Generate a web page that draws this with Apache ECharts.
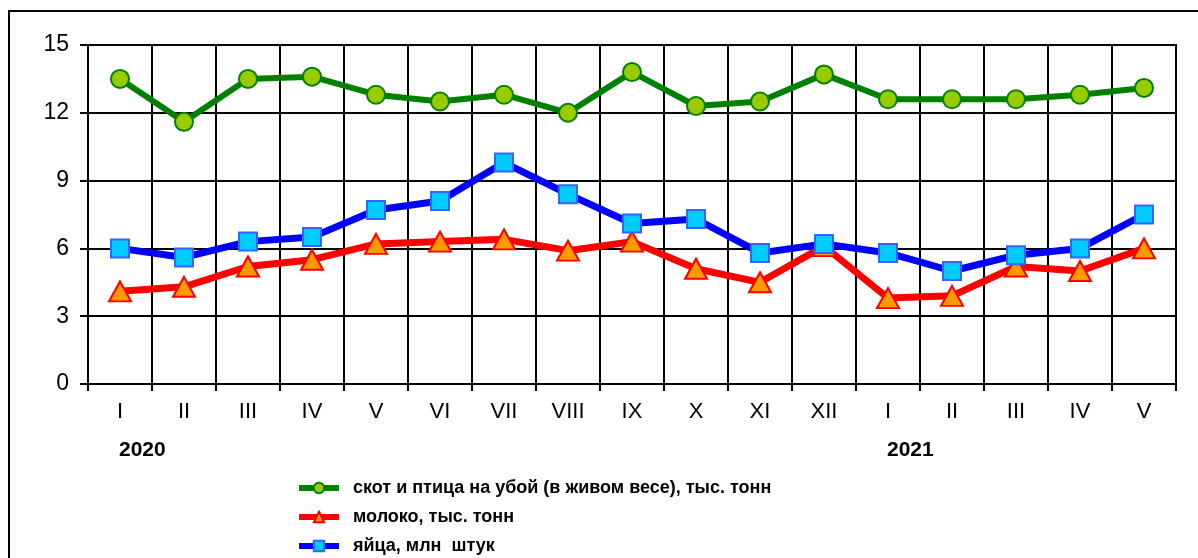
<!DOCTYPE html>
<html><head><meta charset="utf-8">
<script src="https://cdn.jsdelivr.net/npm/echarts@6/dist/echarts.min.js"></script>
<style>html,body{margin:0;padding:0;background:#fff}#c{width:1198px;height:558px}</style>
</head><body><div id="c"></div>
<script>
const categories = ['I','II','III','IV','V','VI','VII','VIII','IX','X','XI','XII','I','II','III','IV','V'];
const years = [{index:0,label:'2020'},{index:12,label:'2021'}];
const livestock = [13.5,11.6,13.5,13.6,12.8,12.5,12.8,12.0,13.8,12.3,12.5,13.7,12.6,12.6,12.6,12.8,13.1];
const milk = [4.1,4.3,5.2,5.5,6.2,6.3,6.4,5.9,6.3,5.1,4.5,6.1,3.8,3.9,5.2,5.0,6.0];
const eggs = [6.0,5.6,6.3,6.5,7.7,8.1,9.8,8.4,7.1,7.3,5.8,6.2,5.8,5.0,5.7,6.0,7.5];
const names = ['скот и птица на убой (в живом весе), тыс. тонн','молоко, тыс. тонн','яйца, млн  штук'];

const chart = echarts.init(document.getElementById('c'));
const font = "'Liberation Sans', Arial, sans-serif";
chart.setOption({
  animation:false,
  backgroundColor:'#fff',
  grid:{left:88,right:22,top:45,bottom:174,show:true,borderColor:'#000',borderWidth:2,backgroundColor:'transparent'},
  legend:{
    orient:'vertical',left:296,top:478,itemWidth:40,itemHeight:13,itemGap:9,padding:0,height:90,
    data:names,
    lineStyle:{width:6},
    textStyle:{fontFamily:font,fontWeight:'bold',fontSize:18,color:'#000',lineHeight:20,padding:[0,0,0,9]}
  },
  xAxis:{
    type:'category',data:categories,boundaryGap:true,
    axisLine:{lineStyle:{color:'#000',width:2}},
    axisTick:{show:true,length:7,lineStyle:{color:'#000',width:2}},
    axisLabel:{color:'#000',fontFamily:font,fontSize:22,margin:17,interval:0},
    splitLine:{show:true,lineStyle:{color:'#000',width:2}}
  },
  yAxis:{
    type:'value',min:0,max:15,interval:3,
    axisLine:{show:true,lineStyle:{color:'#000',width:2}},
    axisTick:{show:true,length:8,lineStyle:{color:'#000',width:2}},
    axisLabel:{color:'#000',fontFamily:font,fontSize:23,margin:19},
    splitLine:{show:true,lineStyle:{color:'#000',width:2}}
  },
  series:[
    {name:names[0],type:'line',data:livestock,symbol:'circle',symbolSize:18,
     lineStyle:{color:'#008000',width:6},itemStyle:{color:'#99CC00',borderColor:'#008000',borderWidth:2}},
    {name:names[1],type:'line',data:milk,symbol:'triangle',symbolSize:[22,20],
     lineStyle:{color:'#FF0000',width:7},itemStyle:{color:'#FF9900',borderColor:'#FF0000',borderWidth:2}},
    {name:names[2],type:'line',data:eggs,symbol:'rect',symbolSize:18,
     lineStyle:{color:'#0000FF',width:7},itemStyle:{color:'#00CCFF',borderColor:'#3366FF',borderWidth:2}}
  ]
});
const gfx = [{type:'rect',shape:{x:9,y:11,width:1400,height:800},style:{fill:'none',stroke:'#000',lineWidth:2},silent:true}];
years.forEach(y=>{
  const px = chart.convertToPixel({xAxisIndex:0}, y.index);
  gfx.push({type:'text',x:px-1,y:450,style:{text:y.label,font:"bold 21px "+font,fill:'#000',textAlign:'left',textVerticalAlign:'middle'}});
});
chart.setOption({graphic:gfx});
</script></body></html>
